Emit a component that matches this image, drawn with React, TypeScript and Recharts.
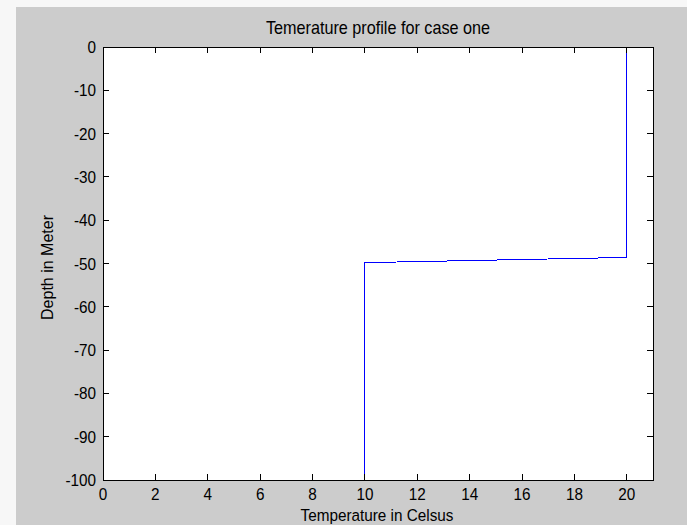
import { LineChart, Line, XAxis, YAxis, Label } from 'recharts';

// profile: temperature (°C) against depth (m)
const temperature = [20, 20, 10, 10];
const depth = [0, -48.6, -49.8, -100];

const xTicks = [0, 2, 4, 6, 8, 10, 12, 14, 16, 18, 20];
const yTicks = [0, -10, -20, -30, -40, -50, -60, -70, -80, -90, -100];
const xDomain = [0, 21];
const yDomain = [-100, 0];

const chartTitle = 'Temerature profile for case one';
const xTitle = 'Temperature in Celsus';
const yTitle = 'Depth in Meter';

const data = temperature.map((t, i) => ({ temp: t, depth: depth[i] }));

const FONT = "'Liberation Sans', Arial, Helvetica, sans-serif";
const SQUEEZE = 'scale(0.9,1)';
const TICK_LEN = 6;

const W = 671;
const H = 518;
const margin = { top: 40, right: 34, bottom: 5, left: 27 };
const leftAxisW = 60;
const bottomAxisH = 40;

const plotLeft = margin.left + leftAxisW;
const plotTop = margin.top;
const plotW = W - plotLeft - margin.right;
const plotH = H - plotTop - margin.bottom - bottomAxisH;

const BottomTick = ({ x, y, payload }: any) => (
  <g transform={`translate(${x},${y})`}>
    <text transform={SQUEEZE} textAnchor="middle" y={12} fontSize={17} fontFamily={FONT} fill="#000">
      {payload.value}
    </text>
  </g>
);

const LeftTick = ({ x, y, payload }: any) => (
  <g transform={`translate(${x},${y})`}>
    <text transform={SQUEEZE} textAnchor="end" y={6} fontSize={17} fontFamily={FONT} fill="#000">
      {payload.value}
    </text>
  </g>
);

const XTitleContent = ({ viewBox }: any) => (
  <g transform={`translate(${viewBox.x + viewBox.width / 2 - 1},${viewBox.y + 41})`}>
    <text transform={SQUEEZE} textAnchor="middle" fontSize={17} fontFamily={FONT} fill="#000">
      {xTitle}
    </text>
  </g>
);

const YTitleContent = ({ viewBox }: any) => {
  const cx = viewBox.x + 10;
  const cy = viewBox.y + viewBox.height / 2 + 4;
  return (
    <text
      x={cx}
      y={cy}
      transform={`rotate(-90, ${cx}, ${cy})`}
      textAnchor="middle"
      fontSize={16}
      fontFamily={FONT}
      fill="#000"
    >
      {yTitle}
    </text>
  );
};

// box frame with inward ticks on all four sides, like a MATLAB axes
const AxesBox = () => {
  const sx = (v: number) => plotLeft + ((v - xDomain[0]) / (xDomain[1] - xDomain[0])) * plotW;
  const sy = (v: number) => plotTop + ((yDomain[1] - v) / (yDomain[1] - yDomain[0])) * plotH;
  const bottom = plotTop + plotH;
  const right = plotLeft + plotW;
  const cx = plotLeft + plotW / 2;
  return (
    <svg
      width={W}
      height={H}
      style={{ position: 'absolute', left: 0, top: 0, pointerEvents: 'none' }}
      shapeRendering="crispEdges"
    >
      <text
        x={cx}
        y={plotTop - 13}
        transform={`translate(${cx * 0.1},0) scale(0.9,1)`}
        textAnchor="middle"
        fontSize={18}
        fontFamily={FONT}
        fill="#000"
      >
        {chartTitle}
      </text>
      <rect x={plotLeft} y={plotTop} width={plotW} height={plotH} fill="none" stroke="#000" />
      {xTicks.map((t) => (
        <g key={`x${t}`}>
          <line x1={sx(t)} x2={sx(t)} y1={bottom} y2={bottom - TICK_LEN} stroke="#000" />
          <line x1={sx(t)} x2={sx(t)} y1={plotTop} y2={plotTop + TICK_LEN} stroke="#000" />
        </g>
      ))}
      {yTicks.map((t) => (
        <g key={`y${t}`}>
          <line x1={plotLeft} x2={plotLeft + TICK_LEN} y1={sy(t)} y2={sy(t)} stroke="#000" />
          <line x1={right} x2={right - TICK_LEN} y1={sy(t)} y2={sy(t)} stroke="#000" />
        </g>
      ))}
    </svg>
  );
};

export default function App() {
  return (
    <div style={{ position: 'absolute', left: 0, top: 0, width: 687, height: 525, background: '#f7f7f7' }}>
      <style>{'.recharts-surface path { shape-rendering: crispEdges; }'}</style>
      <div style={{ position: 'absolute', left: 16, top: 7, width: W, height: H, background: '#cccccc' }}>
        <div
          style={{ position: 'absolute', left: plotLeft, top: plotTop, width: plotW, height: plotH, background: '#fff' }}
        />
        <div style={{ position: 'absolute', left: 0, top: 0 }}>
          <LineChart width={W} height={H} data={data} margin={margin}>
            <XAxis
              dataKey="temp"
              type="number"
              domain={xDomain}
              ticks={xTicks}
              height={bottomAxisH}
              axisLine={false}
              tickLine={false}
              tickSize={0}
              tickMargin={8}
              tick={<BottomTick />}
              interval={0}
            >
              <Label content={<XTitleContent />} />
            </XAxis>
            <YAxis
              dataKey="depth"
              type="number"
              domain={yDomain}
              ticks={yTicks}
              width={leftAxisW}
              axisLine={false}
              tickLine={false}
              tickSize={0}
              tickMargin={7}
              tick={<LeftTick />}
              interval={0}
            >
              <Label content={<YTitleContent />} />
            </YAxis>
            <Line
              type="linear"
              dataKey="depth"
              stroke="#0000ff"
              strokeWidth={1}
              dot={false}
              activeDot={false}
              isAnimationActive={false}
            />
          </LineChart>
        </div>
        <AxesBox />
      </div>
    </div>
  );
}
